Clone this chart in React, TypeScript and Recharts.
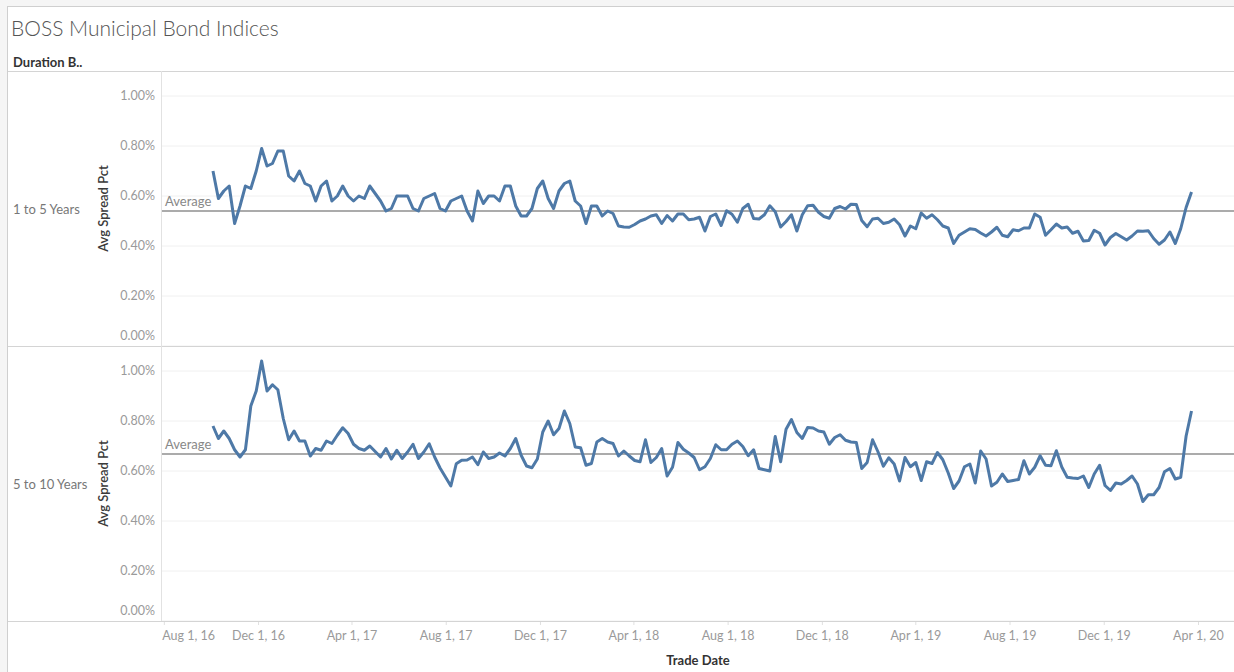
import React from 'react';
import { LineChart, Line, XAxis, YAxis, CartesianGrid, ReferenceLine } from 'recharts';

// weekly readings, first week starts Oct 3, 2016
const FIRST_WEEK = Date.UTC(2016, 9, 3);
const DAY = 86400000;

const SPREAD_1_TO_5 = [
  0.70, 0.59, 0.62, 0.64, 0.49, 0.56, 0.64, 0.63, 0.70, 0.79,
  0.72, 0.73, 0.78, 0.78, 0.68, 0.66, 0.70, 0.65, 0.64, 0.58,
  0.64, 0.66, 0.58, 0.60, 0.64, 0.60, 0.58, 0.60, 0.59, 0.64,
  0.61, 0.58, 0.54, 0.55, 0.60, 0.60, 0.60, 0.55, 0.54, 0.59,
  0.60, 0.61, 0.55, 0.54, 0.58, 0.59, 0.60, 0.54, 0.50, 0.62,
  0.57, 0.60, 0.60, 0.58, 0.64, 0.64, 0.56, 0.52, 0.52, 0.55,
  0.63, 0.66, 0.59, 0.55, 0.62, 0.65, 0.66, 0.58, 0.56, 0.49,
  0.56, 0.56, 0.52, 0.54, 0.53, 0.48, 0.476, 0.475, 0.486, 0.50,
  0.508, 0.52, 0.525, 0.49, 0.522, 0.50, 0.528, 0.528, 0.505, 0.508,
  0.515, 0.46, 0.518, 0.528, 0.482, 0.541, 0.527, 0.495, 0.55, 0.567,
  0.51, 0.508, 0.525, 0.561, 0.537, 0.476, 0.498, 0.525, 0.46, 0.525,
  0.561, 0.563, 0.535, 0.518, 0.511, 0.55, 0.558, 0.548, 0.567, 0.566,
  0.502, 0.477, 0.508, 0.511, 0.49, 0.495, 0.508, 0.485, 0.44, 0.48,
  0.469, 0.532, 0.511, 0.525, 0.505, 0.48, 0.472, 0.41, 0.443, 0.456,
  0.469, 0.466, 0.452, 0.44, 0.456, 0.475, 0.443, 0.437, 0.465, 0.461,
  0.472, 0.472, 0.528, 0.515, 0.443, 0.465, 0.488, 0.472, 0.476, 0.451,
  0.459, 0.42, 0.422, 0.463, 0.451, 0.404, 0.434, 0.45, 0.437, 0.424,
  0.44, 0.46, 0.459, 0.461, 0.43, 0.407, 0.424, 0.456, 0.41, 0.469,
  0.554, 0.616,
];

const SPREAD_5_TO_10 = [
  0.78, 0.73, 0.76, 0.73, 0.685, 0.656, 0.685, 0.86, 0.92, 1.04,
  0.92, 0.945, 0.925, 0.81, 0.725, 0.76, 0.72, 0.72, 0.66, 0.69,
  0.683, 0.72, 0.71, 0.743, 0.773, 0.75, 0.707, 0.69, 0.683, 0.70,
  0.678, 0.656, 0.69, 0.648, 0.683, 0.65, 0.676, 0.707, 0.65, 0.676,
  0.709, 0.656, 0.612, 0.576, 0.54, 0.629, 0.643, 0.644, 0.656, 0.625,
  0.676, 0.65, 0.656, 0.672, 0.66, 0.69, 0.73, 0.663, 0.62, 0.613,
  0.648, 0.756, 0.80, 0.745, 0.77, 0.84, 0.79, 0.696, 0.693, 0.623,
  0.63, 0.716, 0.73, 0.716, 0.71, 0.66, 0.68, 0.66, 0.642, 0.637,
  0.725, 0.634, 0.654, 0.69, 0.58, 0.615, 0.714, 0.687, 0.672, 0.654,
  0.605, 0.617, 0.65, 0.705, 0.685, 0.685, 0.707, 0.72, 0.698, 0.661,
  0.685, 0.61, 0.605, 0.60, 0.738, 0.637, 0.767, 0.806, 0.754, 0.73,
  0.774, 0.772, 0.76, 0.756, 0.707, 0.734, 0.745, 0.723, 0.716, 0.714,
  0.61, 0.634, 0.725, 0.677, 0.619, 0.653, 0.628, 0.56, 0.654, 0.617,
  0.634, 0.562, 0.637, 0.63, 0.674, 0.645, 0.592, 0.53, 0.56, 0.617,
  0.628, 0.552, 0.68, 0.648, 0.54, 0.555, 0.588, 0.558, 0.562, 0.566,
  0.641, 0.588, 0.615, 0.661, 0.623, 0.621, 0.681, 0.616, 0.575, 0.572,
  0.57, 0.58, 0.534, 0.588, 0.623, 0.542, 0.522, 0.552, 0.548, 0.562,
  0.58, 0.548, 0.478, 0.505, 0.505, 0.534, 0.597, 0.61, 0.568, 0.575,
  0.74, 0.84,
];

const AVERAGES = [0.54, 0.668];
const ROW_LABELS = ['1 to 5 Years', '5 to 10 Years'];

const X_TICKS = [
  '2016-08-01', '2016-12-01', '2017-04-01', '2017-08-01', '2017-12-01', '2018-04-01',
  '2018-08-01', '2018-12-01', '2019-04-01', '2019-08-01', '2019-12-01', '2020-04-01',
];
const Y_TICKS = [0, 0.2, 0.4, 0.6, 0.8, 1.0];
const MONTHS = ['Jan', 'Feb', 'Mar', 'Apr', 'May', 'Jun', 'Jul', 'Aug', 'Sep', 'Oct', 'Nov', 'Dec'];

const toUtc = (s: string) => {
  const [y, m, d] = s.split('-').map(Number);
  return Date.UTC(y, m - 1, d);
};

const X_DOMAIN = [Date.UTC(2016, 6, 29), Date.UTC(2020, 4, 17)];
const xTickValues = X_TICKS.map(toUtc);

const fmtDate = (t: number) => {
  const d = new Date(t);
  return `${MONTHS[d.getUTCMonth()]} 1, ${String(d.getUTCFullYear()).slice(2)}`;
};

const makeRows = (vals: number[]) => vals.map((v, i) => ({ t: FIRST_WEEK + i * 7 * DAY, v }));
const rows = [makeRows(SPREAD_1_TO_5), makeRows(SPREAD_5_TO_10)];

const FONT = 'Lato, "Open Sans", sans-serif';
const LINE_COLOR = '#4e79a7';
const TICK_COLOR = '#9a9a9a';

const YTick = (props: any) => {
  const { x, y, payload } = props;
  const yy = payload.value === 0 ? y - 10 : y;
  return (
    <text x={x} y={yy} dy={4} textAnchor="end" fill={TICK_COLOR} fontSize={12.5} fontFamily={FONT}>
      {payload.value.toFixed(2)}%
    </text>
  );
};

const XTick = (props: any) => {
  const { x, y, payload, index } = props;
  // tableau pushes the first label inside the pane
  const first = index === 0;
  return (
    <text
      x={first ? x - 2 : x}
      y={y}
      dy={13}
      textAnchor={first ? 'start' : 'middle'}
      fill={TICK_COLOR}
      fontSize={12.5}
      fontFamily={FONT}
    >
      {fmtDate(payload.value)}
    </text>
  );
};

const Panel: React.FC<{ idx: number; top: number }> = ({ idx, top }) => {
  const bottom = idx === 1;
  return (
    <div style={{ position: 'absolute', left: 0, top }}>
      <LineChart
        width={1234}
        height={bottom ? 326 : 275}
        data={rows[idx]}
        margin={{ top: 0, right: 0, bottom: 0, left: 102 }}
      >
        <CartesianGrid vertical={false} stroke="#f0f0f0" />
        <XAxis
          dataKey="t"
          type="number"
          domain={X_DOMAIN}
          allowDataOverflow
          ticks={xTickValues}
          interval={0}
          hide={!bottom}
          height={51}
          axisLine={false}
          tickSize={4}
          tickLine={{ stroke: '#e0e0e0' }}
          tick={<XTick />}
          label={(p: any) => (
            <text
              x={p.viewBox.x + p.viewBox.width / 2}
              y={p.viewBox.y + 44}
              textAnchor="middle"
              fill="#333"
              fontSize={13}
              fontWeight="bold"
              fontFamily={FONT}
            >
              Trade Date
            </text>
          )}
        />
        <YAxis
          type="number"
          domain={[0, 1.1]}
          ticks={Y_TICKS}
          interval={0}
          width={60}
          axisLine={false}
          tickLine={false}
          tickSize={0}
          tickMargin={7}
          tick={<YTick />}
          label={(p: any) => {
            const cx = 103;
            const cy = p.viewBox.y + p.viewBox.height / 2;
            return (
              <text
                x={cx}
                y={cy}
                transform={`rotate(-90, ${cx}, ${cy})`}
                textAnchor="middle"
                dominantBaseline="central"
                fill="#3a3a3a"
                fontSize={13}
                fontWeight={600}
                fontFamily={FONT}
              >
                Avg Spread Pct
              </text>
            );
          }}
        />
        <ReferenceLine
          y={AVERAGES[idx]}
          stroke="#8f8f8f"
          strokeWidth={1.6}
          label={(p: any) => (
            <text x={p.viewBox.x + 3} y={p.viewBox.y - 5} fill="#888" fontSize={13} fontFamily={FONT}>
              Average
            </text>
          )}
        />
        <Line
          type="linear"
          dataKey="v"
          stroke={LINE_COLOR}
          strokeWidth={3}
          strokeLinejoin="round"
          dot={false}
          isAnimationActive={false}
        />
      </LineChart>
      <div
        style={{
          position: 'absolute',
          left: 13,
          top: 130,
          fontSize: 13,
          color: '#777',
          fontFamily: FONT,
          lineHeight: '16px',
        }}
      >
        {ROW_LABELS[idx]}
      </div>
    </div>
  );
};

const hLine = (top: number, color: string) => (
  <div style={{ position: 'absolute', left: 8, right: 0, top, height: 1, background: color }} />
);

export default function App() {
  return (
    <div
      style={{
        position: 'absolute',
        left: 0,
        top: 0,
        width: 1234,
        height: 672,
        overflow: 'hidden',
        background: '#f5f5f5',
        fontFamily: FONT,
      }}
    >
      <div
        style={{
          position: 'absolute',
          left: 7,
          top: 6,
          right: 0,
          bottom: 0,
          background: '#fff',
          borderLeft: '1px solid #cfcfcf',
          borderTop: '1px solid #cfcfcf',
        }}
      />
      <div style={{ position: 'absolute', left: 11, top: 14, fontSize: 21, color: '#555', lineHeight: '28px', fontWeight: 300 }}>
        BOSS Municipal Bond Indices
      </div>
      <div style={{ position: 'absolute', left: 13, top: 54, fontSize: 13, color: '#333', fontWeight: 'bold', lineHeight: '16px' }}>
        Duration B..
      </div>
      <Panel idx={0} top={71} />
      <Panel idx={1} top={346} />
      {hLine(71, '#d4d4d4')}
      {hLine(346, '#d4d4d4')}
      {hLine(621, '#d4d4d4')}
      <div style={{ position: 'absolute', left: 161, top: 71, width: 1, height: 550, background: '#e2e2e2' }} />
    </div>
  );
}
